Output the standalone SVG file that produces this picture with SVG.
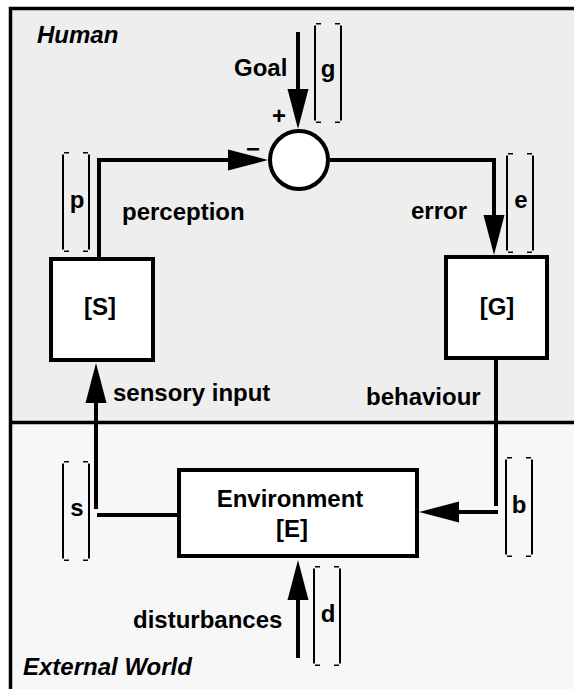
<svg xmlns="http://www.w3.org/2000/svg" width="574" height="689" viewBox="0 0 574 689">
  <style>
    text { font-family: "Liberation Sans", Arial, Helvetica, sans-serif; font-weight: bold; font-size: 24px; fill: #000; }
    .region { font-style: italic; }
    .mid { text-anchor: middle; }
    .box { fill: #fff; stroke: #000; stroke-width: 4; }
    .wire { fill: none; stroke: #000; stroke-width: 4; }
    .frame { fill: none; stroke: #000; stroke-width: 3.5; }
    .brk { fill: none; stroke: #000; stroke-width: 2; }
    .tick { fill: none; stroke: #000; stroke-width: 1.6; }
  </style>
  <defs>
    <marker id="arrow" markerUnits="userSpaceOnUse" markerWidth="42" markerHeight="24" viewBox="0 -11 42 22" refX="0" refY="0" orient="auto">
      <path d="M0,-10.5 L40,0 L0,10.5 z" fill="#000"/>
    </marker>
    <!-- value bracket "[ ]", 26 wide, 100 tall, origin at top-left -->
    <g id="bracket">
      <path class="brk" d="M0,2.5 V97.5 M26,2.5 V97.5"/>
      <path class="tick" d="M1,0.8 h5 M20,0.8 h5 M1,99.2 h5 M20,99.2 h5"/>
    </g>
  </defs>

  <!-- background regions -->
  <rect x="0" y="0" width="574" height="689" fill="#fff"/>
  <rect x="10" y="8" width="564" height="414" fill="#eeeeee"/>
  <rect x="10" y="422" width="564" height="267" fill="#f7f7f7"/>
  <path class="frame" d="M10.5,689 V8.5 H574"/>
  <path class="frame" d="M10.5,422.5 H574"/>

  <g id="region-labels">
    <text class="region" x="37" y="43">Human</text>
    <text class="region" x="23" y="675">External World</text>
  </g>

  <!-- connectors -->
  <g id="connectors">
    <path class="wire" d="M298,32 V89" marker-end="url(#arrow)"/>
    <path class="wire" d="M99,258 V160 H228" marker-end="url(#arrow)"/>
    <path class="wire" d="M330,160 H494 V215" marker-end="url(#arrow)"/>
    <path class="wire" d="M496,360 V506 M498,512 H459" marker-end="url(#arrow)"/>
    <path class="wire" d="M177,515 H97 M96,509 V403" marker-end="url(#arrow)"/>
    <path class="wire" d="M298,658 V600" marker-end="url(#arrow)"/>
  </g>

  <g id="comparator">
    <circle cx="299" cy="160" r="29" fill="#fff" stroke="#000" stroke-width="4"/>
    <text class="mid" x="279" y="124" font-size="28">+</text>
    <text class="mid" x="253" y="157" font-size="45">−</text>
  </g>

  <g id="sensor">
    <rect class="box" x="51" y="259" width="102" height="101"/>
    <text class="mid" x="100" y="315">[S]</text>
  </g>

  <g id="generator">
    <rect class="box" x="446" y="257" width="101" height="101"/>
    <text class="mid" x="497" y="315">[G]</text>
  </g>

  <g id="environment">
    <rect class="box" x="179" y="470" width="238" height="86"/>
    <text class="mid" x="290" y="507">Environment</text>
    <text class="mid" x="292" y="537">[E]</text>
  </g>

  <g id="signal-labels">
    <text x="234" y="76">Goal</text>
    <text x="122" y="220">perception</text>
    <text x="411" y="219">error</text>
    <text x="113" y="401">sensory input</text>
    <text x="366" y="405">behaviour</text>
    <text x="133" y="628">disturbances</text>
  </g>

  <g id="values">
    <use href="#bracket" x="315" y="23"/>
    <text class="mid" x="328" y="77">g</text>
    <use href="#bracket" x="63" y="152"/>
    <text class="mid" x="77" y="208">p</text>
    <use href="#bracket" x="507" y="153"/>
    <text class="mid" x="521" y="208">e</text>
    <use href="#bracket" x="506" y="457"/>
    <text class="mid" x="519" y="513">b</text>
    <use href="#bracket" x="63" y="461"/>
    <text class="mid" x="77" y="516">s</text>
    <use href="#bracket" x="314" y="566"/>
    <text class="mid" x="328" y="622">d</text>
  </g>
</svg>
